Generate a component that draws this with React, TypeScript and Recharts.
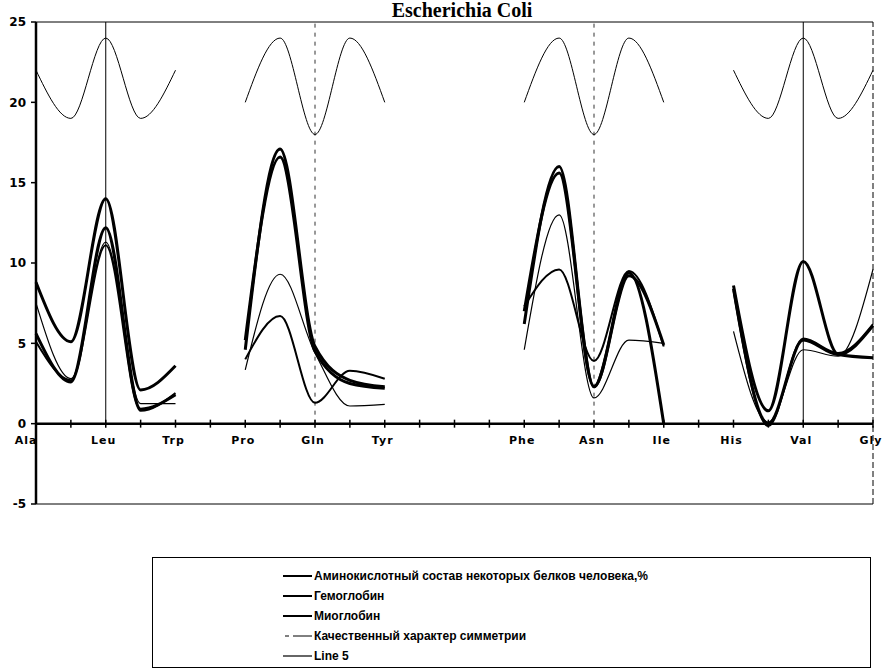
import React from "react";
import { ComposedChart, Line, XAxis, YAxis, ReferenceLine } from "recharts";

// amino acid positions along the x axis (blank = intermediate tick)
const categories = [
  "Ala", "", "Leu", "", "Trp", "", "Pro", "", "Gln", "", "Tyr", "", "", "",
  "Phe", "", "Asn", "", "Ile", "", "His", "", "Val", "", "Gly",
];

const aminoValues = [
  5.1, 2.7, 11.1, 0.8, 1.9, null, 4.0, 6.7, 1.3, 3.3, 2.8, null, null, null,
  7.3, 9.6, 3.9, 9.5, 4.8, null, 8.3, -0.15, 5.3, 4.4, 6.2,
];
const hemoglobin = [
  8.8, 5.1, 14.0, 2.1, 3.6, null, 4.6, 17.1, 4.8, 2.7, 2.3, null, null, null,
  6.2, 16.0, 2.3, 9.4, 0, null, 8.6, 0.8, 10.1, 4.3, 4.1,
];
const myoglobin = [
  5.6, 2.6, 12.2, 0.9, 1.8, null, 5.2, 16.6, 4.5, 2.5, 2.2, null, null, null,
  7.0, 15.6, 2.3, 9.2, 4.9, null, 8.4, 0.0, 5.2, 4.3, 6.1,
];
const symmetry = [
  22, 19, 24, 19, 22, null, 20, 24, 18, 24, 20, null, null, null,
  20, 24, 18, 24, 20, null, 22, 19, 24, 19, 22,
];
const line5 = [
  7.5, 2.8, 11.3, 1.25, 1.25, null, 3.35, 9.3, 4.4, 1.1, 1.2, null, null, null,
  4.6, 13.0, 1.6, 5.2, 5.0, null, 5.75, 0.1, 4.6, 4.2, 9.6,
];

const yTicks = [-5, 0, 5, 10, 15, 20, 25];
const solidGuides = [2, 22];
const dashedGuides = [8, 16];

const series = [
  { key: "amino", name: "Аминокислотный состав некоторых белков человека,%", width: 2 },
  { key: "hemo", name: "Гемоглобин", width: 3 },
  { key: "myo", name: "Миоглобин", width: 3 },
  { key: "sym", name: "Качественный характер симметрии", width: 1 },
  { key: "l5", name: "Line 5", width: 1.2 },
];

const data = categories.map((name, i) => ({
  i,
  name,
  axis: 0,
  amino: aminoValues[i],
  hemo: hemoglobin[i],
  myo: myoglobin[i],
  sym: symmetry[i],
  l5: line5[i],
}));

const labelFont = "'DejaVu Sans', sans-serif";
const legendFont = "'Liberation Sans', Arial, sans-serif";

// draws the tick marks and amino acid names on the zero line
const AxisMark = (props: any) => {
  const { cx, cy, index, payload } = props;
  return (
    <g key={"m" + index}>
      <line x1={cx} x2={cx} y1={cy - 4} y2={cy + 4} stroke="#000" strokeWidth={1.5} />
      {payload.name ? (
        <text
          x={index === 0 ? cx - 10 : cx - 2}
          y={cy + 20}
          textAnchor="middle"
          fontFamily={labelFont}
          fontWeight="bold"
          fontSize={11}
          letterSpacing={1}
          fill="#000"
        >
          {payload.name}
        </text>
      ) : null}
    </g>
  );
};

function LegendBox() {
  return (
    <div
      style={{
        position: "absolute",
        left: 152,
        top: 557,
        width: 719,
        height: 111,
        border: "1px solid #000",
        boxSizing: "border-box",
      }}
    >
      {series.map((s, k) => (
        <div
          key={s.key}
          style={{
            position: "absolute",
            left: 130,
            top: 9 + k * 20,
            height: 18,
            display: "flex",
            alignItems: "center",
            whiteSpace: "nowrap",
          }}
        >
          <svg width={29} height={18}>
            {s.key === "sym" ? (
              <>
                <line x1={2} x2={6} y1={9} y2={9} stroke="#000" strokeWidth={1} />
                <line x1={10} x2={29} y1={9} y2={9} stroke="#000" strokeWidth={1} />
              </>
            ) : (
              <line x1={0} x2={29} y1={9} y2={9} stroke="#000" strokeWidth={Math.min(s.width, 2)} />
            )}
          </svg>
          <span
            style={{
              fontFamily: legendFont,
              fontWeight: "bold",
              fontSize: 12,
              marginLeft: 2,
              color: "#000",
            }}
          >
            {s.name}
          </span>
        </div>
      ))}
    </div>
  );
}

export default function App() {
  return (
    <div style={{ position: "relative", width: 885, height: 672, background: "#fff", overflow: "hidden" }}>
      <style>{"body{margin:0}"}</style>
      <div
        style={{
          position: "absolute",
          left: 462,
          top: 0,
          transform: "translateX(-50%)",
          fontFamily: "'Liberation Serif', serif",
          fontWeight: "bold",
          fontSize: 20,
          lineHeight: "20px",
          whiteSpace: "nowrap",
        }}
      >
        Escherichia Coli
      </div>
      <ComposedChart
        width={885}
        height={520}
        data={data}
        margin={{ top: 22, right: 12, bottom: 16, left: 0 }}
      >
        <XAxis dataKey="i" type="number" domain={[0, 24]} hide />
        <YAxis
          type="number"
          domain={[-5, 25]}
          ticks={yTicks}
          interval={0}
          width={36}
          axisLine={{ stroke: "#000", strokeWidth: 2.5 }}
          tickLine={{ stroke: "#000", strokeWidth: 1.5 }}
          tickSize={5}
          tickMargin={5}
          tick={{ fontFamily: labelFont, fontWeight: "bold", fontSize: 12, fill: "#000" }}
        />
        <ReferenceLine y={25} stroke="#000" strokeWidth={1} />
        <ReferenceLine y={-5} stroke="#000" strokeWidth={1} />
        <ReferenceLine x={24} stroke="#000" strokeWidth={1} strokeDasharray="6 3" />
        {solidGuides.map((g) => (
          <ReferenceLine key={"s" + g} segment={[{ x: g, y: 0 }, { x: g, y: 25 }]} stroke="#000" strokeWidth={1} />
        ))}
        {dashedGuides.map((g) => (
          <ReferenceLine
            key={"d" + g}
            segment={[{ x: g, y: 0 }, { x: g, y: 25 }]}
            stroke="#333"
            strokeWidth={1}
            strokeDasharray="4 5"
          />
        ))}
        <Line
          dataKey="axis"
          stroke="#000"
          strokeWidth={2.5}
          dot={AxisMark}
          activeDot={false}
          isAnimationActive={false}
          legendType="none"
        />
        {series.map((s) => (
          <Line
            key={s.key}
            type="monotone"
            dataKey={s.key}
            name={s.name}
            stroke="#000"
            strokeWidth={s.width}
            dot={false}
            activeDot={false}
            connectNulls={false}
            isAnimationActive={false}
          />
        ))}
      </ComposedChart>
      <LegendBox />
    </div>
  );
}
